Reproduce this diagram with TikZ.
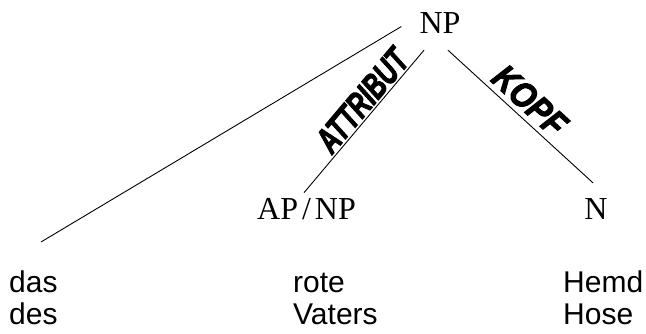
\documentclass[tikz,border=0pt]{standalone}
\usepackage{fontspec}
\setmainfont{Liberation Serif}
\newfontfamily\wordfont{Liberation Sans}
\newfontfamily\labfont[BoldItalicFeatures={FakeBold=3}]{Liberation Sans}
\usetikzlibrary{calc}
\tikzset{
  cat/.style={inner sep=0pt, anchor=base, font=\fontsize{32}{32}\selectfont},
  word/.style={inner sep=0pt, anchor=base west, font=\wordfont\fontsize{30}{30}\selectfont},
  edge/.style={line width=0.9pt, black},
  lab/.style={sloped, above, inner sep=2pt, font=\labfont\fontsize{31}{31}\selectfont\bfseries\itshape}
}
\begin{document}
\begin{tikzpicture}[x=1pt, y=-1pt]
\useasboundingbox (0,0) rectangle (646,333);
\node[cat] (np) at (440,33) {NP};
\node[cat] (ap) at (306.5,219) {AP\kern4pt/\kern4ptNP};
\node[cat] (n) at (596,219) {N};
\coordinate (leftend) at (41,242);
\node[word] (das) at (9,292) {das};
\node[word] (des) at (9,324) {des};
\node[word] (rote) at (293,292) {rote};
\node[word] (vaters) at (293,324) {Vaters};
\node[word] (hemd) at (563,292) {Hemd};
\node[word] (hose) at (563,324) {Hose};
\draw[edge] ($(np.west)+(-18,4)$) -- (leftend);
\draw[edge] ($(ap.north)+(-2.5,-5)$) -- node[lab, pos=0.58]{\scalebox{0.8}[1.15]{ATTRIBUT}} ($(np.south)+(-16,17)$);
\draw[edge] ($(np.south)+(8,17)$) -- node[lab, pos=0.48, inner sep=5pt]{\scalebox{1.0}[1.15]{KOPF}} ($(n.north)+(-3,-15)$);
\end{tikzpicture}
\end{document}
